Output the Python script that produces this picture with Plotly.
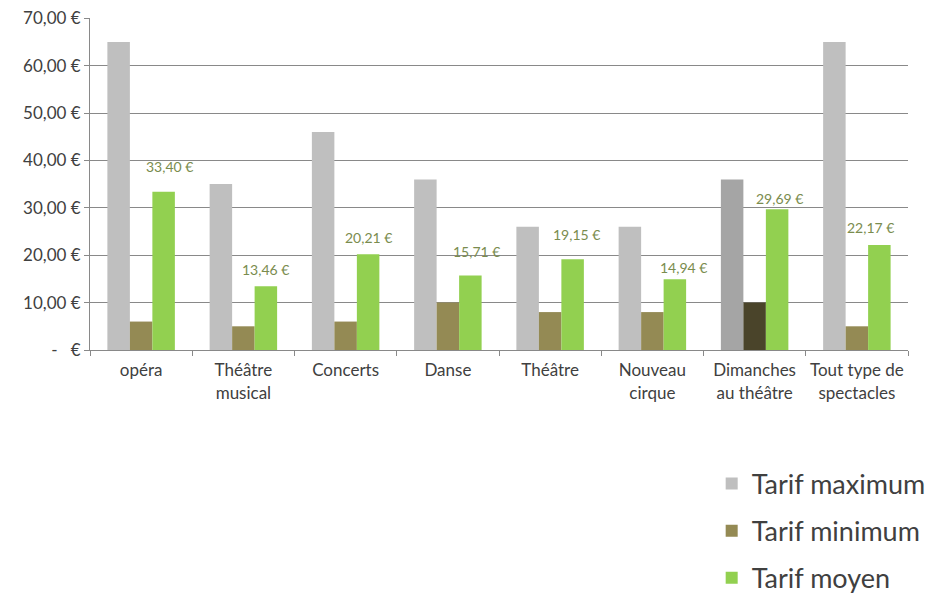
import plotly.graph_objects as go

# Data
categories = ["opéra", "Théâtre<br>musical", "Concerts", "Danse", "Théâtre",
              "Nouveau<br>cirque", "Dimanches<br>au théâtre", "Tout type de<br>spectacles"]
tarif_max = [65, 35, 46, 36, 26, 26, 36, 65]
tarif_min = [6, 5, 6, 10, 8, 8, 10, 5]
tarif_moyen = [33.40, 13.46, 20.21, 15.71, 19.15, 14.94, 29.69, 22.17]
y_ticks = [0, 10, 20, 30, 40, 50, 60, 70]
y_ticktext = ["-   €", "10,00 €", "20,00 €", "30,00 €", "40,00 €", "50,00 €", "60,00 €", "70,00 €"]

# hand-placed label offsets (px) as in the original chart
label_dx = [6, 0, 0, 6, 4, 9, 2, -9]
label_dy = [25, 17, 17, 24, 25, 12, 11, 17]

FONT = "Lato, Open Sans, sans-serif"
TXT = "#404040"

# the "Dimanches" bars are drawn in darker shades
max_colors = ["#bfbfbf"] * 8
max_colors[6] = "#a5a5a5"
min_colors = ["#948a54"] * 8
min_colors[6] = "#4a442a"

fig = go.Figure()
fig.add_trace(go.Bar(x=categories, y=tarif_max, name="Tarif maximum", legendgroup="a",
                     marker=dict(color=max_colors, line_width=0)))
fig.add_trace(go.Bar(x=categories, y=tarif_min, name="Tarif minimum", legendgroup="b",
                     marker=dict(color=min_colors, line_width=0)))
fig.add_trace(go.Bar(x=categories, y=tarif_moyen, name="Tarif moyen", legendgroup="c",
                     marker=dict(color="#92d050", line_width=0)))

# data labels for the average, above each green bar
for cat, v, dx, dy in zip(categories, tarif_moyen, label_dx, label_dy):
    fig.add_annotation(x=cat, y=v, text=f"{v:.2f} €".replace(".", ","),
                       xshift=22.5 + dx, yshift=dy, showarrow=False,
                       font=dict(family=FONT, size=14, color="#7a8c4e"))

fig.update_layout(
    width=939, height=596,
    margin=dict(l=82, r=39, t=10, b=254, autoexpand=False),
    paper_bgcolor="white", plot_bgcolor="white",
    barmode="group", bargap=0.34, bargroupgap=0,
    font=dict(family=FONT, size=17, color=TXT),
    xaxis=dict(showline=True, linecolor="#898989", linewidth=1,
               ticks="outside", tickson="boundaries", ticklen=5,
               tickcolor="#898989", tickangle=0, automargin=False,
               ticklabelstandoff=5, tickfont=dict(size=17, color=TXT)),
    yaxis=dict(range=[0, 70.05], tickvals=y_ticks, ticktext=y_ticktext,
               showgrid=True, gridcolor="#898989", gridwidth=1,
               showline=True, linecolor="#898989", linewidth=1,
               ticks="outside", ticklen=5, tickcolor="#898989",
               zeroline=False, automargin=False, ticklabeloverflow="allow",
               tickfont=dict(size=17, color=TXT)),
    legend=dict(x=0.760, y=-0.33, xanchor="left", yanchor="top",
                tracegroupgap=9, itemwidth=30, traceorder="grouped",
                font=dict(size=27, color=TXT)),
)

fig.write_html("out.html")
